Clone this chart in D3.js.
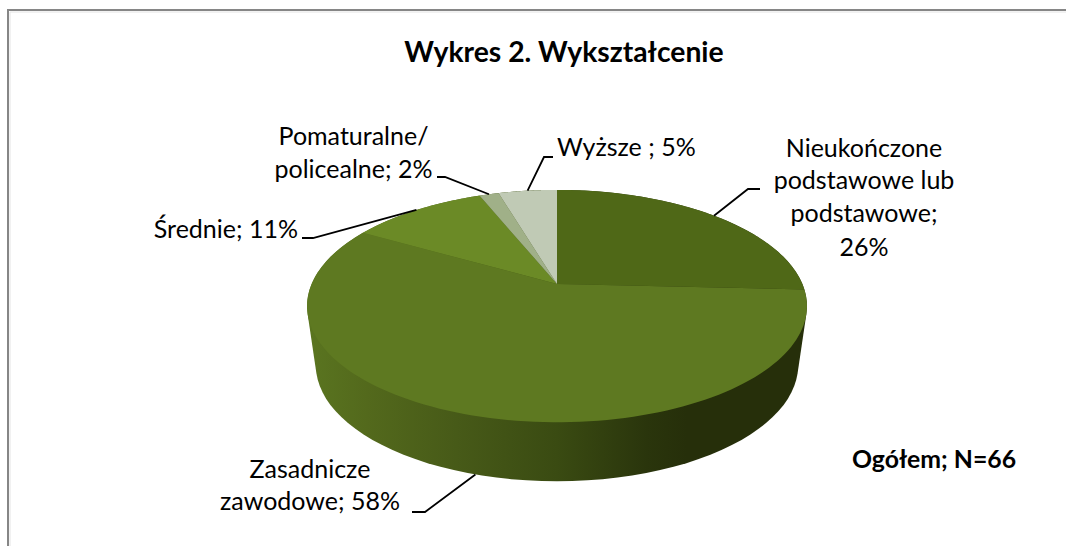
<!DOCTYPE html>
<html><head><meta charset="utf-8">
<script src="https://cdn.jsdelivr.net/npm/d3@7/dist/d3.min.js"></script>
<style>html,body{margin:0;padding:0;background:#fff}svg{display:block}text{font-family:Lato,"Noto Sans",sans-serif;fill:#000}</style>
</head><body><svg id="c" width="1066" height="546"></svg>
<script>
const categories=["Nieukończone podstawowe lub podstawowe","Zasadnicze zawodowe","Średnie","Pomaturalne/ policealne","Wyższe"];
const counts=[17,38,7,1,3];
const percents=["26%","58%","11%","2%","5%"];
const colors=["#4f6817","#5e7921","#6b8a26","#a0b088","#c0cab5"];
const labelLines=[["Nieukończone","podstawowe lub","podstawowe;","26%"],["Zasadnicze","zawodowe; 58%"],["Średnie; 11%"],["Pomaturalne/","policealne; 2%"],["Wyższe ; 5%"]];
const title="Wykres 2. Wykształcenie";
const note="Ogółem; N=66";

const svg=d3.select("#c");
const W=1066,H=546;
svg.append("path").attr("d",`M8,${H}V10H${W}`).attr("fill","none").attr("stroke","#868686").attr("stroke-width",2);
svg.append("path").attr("d",`M10,${H}V12H${W}`).attr("fill","none").attr("stroke","#e4e4e4").attr("stroke-width",1);

// perspective projection of a tilted disc
const cx=557,k=0.19;
const top_={y0:284,rx:245.4,ry:112},bot={y0:343,rx:236.8,ry:112};
const proj=(t,p)=>{const u=Math.sin(t),v=Math.cos(t),w=1+k*v;return [cx+p.rx*u/w,p.y0-p.ry*v/w];};
const arcPts=(a,b,p)=>d3.range(0,121).map(i=>proj(a+(b-a)*i/120,p));
const line=d3.line().curve(d3.curveLinear);

const arcs=d3.pie().sort(null).value(d=>d)(counts);

// side wall: convex hull of the top and bottom rims
const grad=svg.append("defs").append("linearGradient").attr("id","wall").attr("gradientUnits","userSpaceOnUse")
 .attr("x1",307).attr("x2",807).attr("y1",0).attr("y2",0);
[[0,"#5a7520"],[0.12,"#53691c"],[0.3,"#475a18"],[0.5,"#3a4b12"],[0.68,"#2a350c"],[0.76,"#262f0a"],[1,"#262f0a"]]
 .forEach(([o,c])=>grad.append("stop").attr("offset",o).attr("stop-color",c));
const hull=d3.polygonHull([...arcPts(0,2*Math.PI,top_),...arcPts(0,2*Math.PI,bot)]);
svg.append("path").attr("fill","url(#wall)").attr("d",line(hull)+"Z");

// top faces
svg.append("g").selectAll("path").data(arcs).join("path")
 .attr("fill",(d,i)=>colors[i])
 .attr("d",d=>line([proj(0,{...top_,rx:0,ry:0}),...arcPts(d.startAngle,d.endAngle,top_)])+"Z");

// labels and leaders: elbow and text placement are layout, anchors come from the slices
const layout=[
 {elbow:[[748,189],[760,189]],x:864,y:[157,189,222,256],anchor:"middle"},
 {elbow:[[425,512],[412,512]],x:310,y:[478,510],anchor:"middle",lower:true},
 {elbow:[[313,238],[302,238]],x:298,y:[238],anchor:"end"},
 {elbow:[[445,177],[437,177]],x:353.5,y:[145,178],anchor:"middle"},
 {elbow:[[544,157],[553,157]],x:557,y:[156],anchor:"start"}];
const fs=25;
arcs.forEach((d,i)=>{
 const L=layout[i],mid=(d.startAngle+d.endAngle)/2;
 const s=proj(mid,L.lower?bot:top_);
 svg.append("path").attr("d",line([s,...L.elbow])).attr("fill","none").attr("stroke","#000").attr("stroke-width",1.8);
 labelLines[i].forEach((t,j)=>svg.append("text").attr("x",L.x).attr("y",L.y[j]).attr("text-anchor",L.anchor)
   .attr("font-size",fs).text(t));
});
svg.append("text").attr("x",564).attr("y",62).attr("text-anchor","middle").attr("font-size",28.3).attr("font-weight",700).text(title);
svg.append("text").attr("x",852).attr("y",468).attr("font-size",24.8).attr("font-weight",700).text(note);
</script></body></html>
